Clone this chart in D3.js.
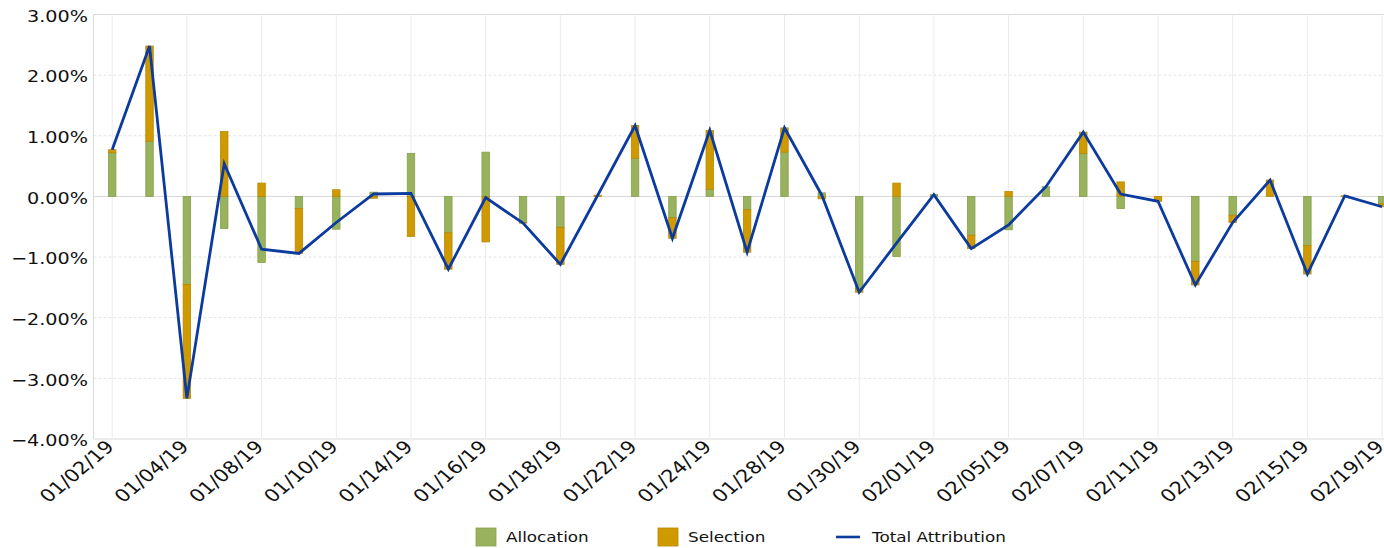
<!DOCTYPE html>
<html>
<head>
<meta charset="utf-8">
<script src="https://cdn.jsdelivr.net/npm/d3@7"></script>
<style>
  body { margin: 0; background: #fff; }
  text { font-family: "DejaVu Sans", Verdana, sans-serif; fill: #111; }
</style>
</head>
<body>
<div id="container"></div>
<script>
const dates = [
  "01/02/19", "01/03/19", "01/04/19", "01/07/19", "01/08/19", "01/09/19", "01/10/19",
  "01/11/19", "01/14/19", "01/15/19", "01/16/19", "01/17/19", "01/18/19", "01/21/19",
  "01/22/19", "01/23/19", "01/24/19", "01/25/19", "01/28/19", "01/29/19", "01/30/19",
  "01/31/19", "02/01/19", "02/04/19", "02/05/19", "02/06/19", "02/07/19", "02/08/19",
  "02/11/19", "02/12/19", "02/13/19", "02/14/19", "02/15/19", "02/18/19", "02/19/19"
];

// values in percent
const allocation = [
  0.72, 0.91, -1.45, -0.53, -1.09, -0.20, -0.54,
  0.07, 0.71, -0.60, 0.73, -0.43, -0.51, 0.00,
  0.63, -0.35, 0.12, -0.22, 0.73, 0.06, -1.52,
  -0.99, 0.03, -0.64, -0.55, 0.16, 0.71, -0.20,
  0.00, -1.07, -0.31, 0.00, -0.81, 0.00, -0.12
];

const selection = [
  0.05, 1.57, -1.88, 1.07, 0.22, -0.74, 0.11,
  -0.03, -0.66, -0.60, -0.75, -0.01, -0.61, 0.02,
  0.54, -0.34, 0.97, -0.70, 0.40, -0.04, -0.06,
  0.22, 0.00, -0.22, 0.08, 0.00, 0.35, 0.24,
  -0.08, -0.39, -0.12, 0.27, -0.47, 0.01, -0.05
];

const yTicks = [3, 2, 1, 0, -1, -2, -3, -4];
const seriesNames = ["Allocation", "Selection", "Total Attribution"];
const colors = ["#99b25e", "#cf9a00", "#0b3b9e"];
const strokes = ["#86a04c", "#b88800"];

const width = 1384;
const height = 548;
const stretch = 1.2; // glyphs in the source are drawn a bit wide

const rows = dates.map((d, i) => ({
  date: d,
  Allocation: allocation[i],
  Selection: selection[i],
  total: allocation[i] + selection[i]
}));

const svg = d3.select("#container").append("svg")
  .attr("width", width).attr("height", height);

const step = 37.35;
const x = d3.scaleBand()
  .domain(dates)
  .range([93.5, 93.5 + step * dates.length])
  .padding(0);

const y = d3.scaleLinear().domain([-4, 3]).range([439, 14.5]);

const plotRight = width;
const fmt = d3.format(".2f");

// horizontal grid
svg.append("g").selectAll("line")
  .data(yTicks)
  .join("line")
  .attr("x1", 93.5).attr("x2", plotRight)
  .attr("y1", (d) => y(d)).attr("y2", (d) => y(d))
  .attr("stroke", (d) => (d === 0 || d === 3 || d === -4) ? "#d9d9d9" : "#e4e4e4")
  .attr("stroke-width", 1)
  .attr("stroke-dasharray", (d) => (d === 0 || d === 3 || d === -4) ? null : "3,2");

// vertical grid on every other date
const labelled = dates.filter((d, i) => i % 2 === 0);
svg.append("g").selectAll("line")
  .data(labelled)
  .join("line")
  .attr("x1", (d) => x(d) + x.bandwidth() / 2)
  .attr("x2", (d) => x(d) + x.bandwidth() / 2)
  .attr("y1", y(3)).attr("y2", y(-4))
  .attr("stroke", "#ebebeb")
  .attr("stroke-width", 1);

// left axis line
svg.append("line")
  .attr("x1", 93.5).attr("x2", 93.5)
  .attr("y1", y(3)).attr("y2", y(-4))
  .attr("stroke", "#d9d9d9");

// y tick labels
svg.append("g").selectAll("text")
  .data(yTicks)
  .join("text")
  .attr("transform", (d) => `translate(88,${y(d)}) scale(${stretch},1)`)
  .attr("dy", "0.45em")
  .attr("text-anchor", "end")
  .attr("font-size", 16)
  .text((d) => (d < 0 ? "\u2212" : "") + fmt(Math.abs(d)) + "%");

// x tick labels
svg.append("g").selectAll("text")
  .data(labelled)
  .join("text")
  .attr("transform", (d) => `translate(${x(d) + x.bandwidth() / 2 + 3},${448}) scale(${stretch},1) rotate(-45)`)
  .attr("text-anchor", "end")
  .attr("font-size", 17.5)
  .text((d) => d);

// stacked bars
const stack = d3.stack()
  .keys(["Allocation", "Selection"])
  .offset(d3.stackOffsetDiverging);
const layers = stack(rows);

const barW = x.bandwidth() * 0.2;

svg.append("g").selectAll("g")
  .data(layers)
  .join("g")
  .attr("fill", (d, i) => colors[i])
  .attr("stroke", (d, i) => strokes[i])
  .attr("stroke-width", 0.8)
  .selectAll("rect")
  .data((d) => d)
  .join("rect")
  .attr("x", (d) => x(d.data.date) + x.bandwidth() / 2 - barW / 2)
  .attr("y", (d) => y(Math.max(d[0], d[1])))
  .attr("width", barW)
  .attr("height", (d) => Math.abs(y(d[0]) - y(d[1])));

// total attribution line
const line = d3.line()
  .x((d) => x(d.date) + x.bandwidth() / 2)
  .y((d) => y(d.total));

svg.append("path")
  .datum(rows)
  .attr("d", line)
  .attr("fill", "none")
  .attr("stroke", colors[2])
  .attr("stroke-width", 2.8)
  .attr("stroke-linejoin", "miter");

// legend
const legendX = [476, 658, 836];
const legend = svg.append("g").selectAll("g")
  .data(seriesNames)
  .join("g")
  .attr("transform", (d, i) => `translate(${legendX[i]},537)`);

legend.filter((d, i) => i < 2)
  .append("rect")
  .attr("x", 0).attr("y", -9)
  .attr("width", 20).attr("height", 18)
  .attr("fill", (d, i) => colors[i])
  .attr("stroke", (d, i) => strokes[i])
  .attr("stroke-width", 0.8);

legend.filter((d, i) => i === 2)
  .append("line")
  .attr("x1", 0).attr("x2", 24)
  .attr("y1", 0).attr("y2", 0)
  .attr("stroke", colors[2])
  .attr("stroke-width", 2.6);

legend.append("text")
  .attr("transform", (d, i) => `translate(${i < 2 ? 30 : 36},0) scale(${stretch},1)`)
  .attr("dy", "0.36em")
  .attr("font-size", 14)
  .text((d) => d);
</script>
</body>
</html>
